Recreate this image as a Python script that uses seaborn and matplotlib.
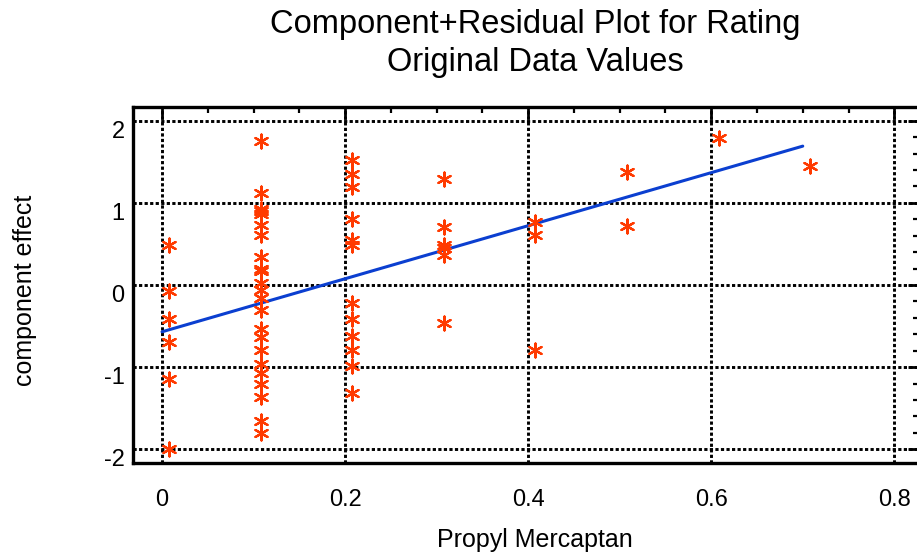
import matplotlib
matplotlib.use("Agg")
import matplotlib.pyplot as plt
import seaborn as sns
import pandas as pd
from matplotlib.ticker import MultipleLocator

# propyl mercaptan levels (points sit slightly right of the grid values)
levels = [0.008, 0.108, 0.208, 0.308, 0.408, 0.508, 0.608, 0.708]

effect_00 = [0.49, -0.07, -0.41, -0.70, -1.15, -2.0]
effect_01 = [1.755, 1.115, 0.93, 0.90, 0.86, 0.73, 0.61, 0.34, 0.19, 0.17, 0.03,
             -0.06, -0.16, -0.31, -0.53, -0.63, -0.79, -0.96, -1.07, -1.20,
             -1.36, -1.65, -1.80]
effect_02 = [1.52, 1.35, 1.19, 0.80, 0.55, 0.49, -0.22, -0.42, -0.62, -0.79,
             -0.99, -1.31]
effect_03 = [1.29, 0.70, 0.49, 0.45, 0.37, -0.46]
effect_04 = [0.77, 0.61, -0.79]
effect_05 = [1.37, 0.72]
effect_06 = [1.79]
effect_07 = [1.45]

fit_x = [0.0, 0.7]
fit_y = [-0.57, 1.69]

x_ticks = [0, 0.2, 0.4, 0.6, 0.8]
x_labels = ["0", "0.2", "0.4", "0.6", "0.8"]
y_ticks = [-2, -1, 0, 1, 2]
y_labels = ["-2", "-1", "0", "1", "2"]

groups = [effect_00, effect_01, effect_02, effect_03, effect_04, effect_05,
          effect_06, effect_07]
df = pd.concat([pd.DataFrame({"mercaptan": lv, "effect": vals})
                for lv, vals in zip(levels, groups)], ignore_index=True)

sns.set_style("white")
plt.rcParams["font.family"] = ["Liberation Sans", "DejaVu Sans"]
plt.rcParams["text.color"] = "black"
plt.rcParams["xtick.labelcolor"] = "black"
plt.rcParams["ytick.labelcolor"] = "black"

fig = plt.figure(figsize=(9.17, 5.56), dpi=100)
ax = fig.add_axes([133 / 917, 93 / 556, 786 / 917, 356.3 / 556])

ax.plot(fit_x, fit_y, color="#0b3fd0", lw=2.2, zorder=3)
sns.scatterplot(data=df, x="mercaptan", y="effect", ax=ax, marker=(6, 2, 0),
                s=100, color="#ff3a00", linewidth=1.6, zorder=4, legend=False)

ax.set_xlim(-0.0317, 0.827)
ax.set_ylim(-2.167, 2.17)
ax.set_xticks(x_ticks)
ax.set_xticklabels(x_labels)
ax.set_yticks(y_ticks)
ax.set_yticklabels(y_labels)
ax.xaxis.set_minor_locator(MultipleLocator(0.05))
ax.yaxis.set_minor_locator(MultipleLocator(0.2))

ax.grid(True, which="major", color="black", lw=2.1, linestyle=(0, (1.1, 0.8)))
ax.set_axisbelow(True)

for sp in ax.spines.values():
    sp.set_linewidth(2.4)
    sp.set_color("black")
    sp.set_visible(True)

ax.tick_params(which="both", direction="in", top=True, right=True,
               color="black")
ax.tick_params(which="major", length=8, width=2, labelsize=17)
ax.tick_params(which="minor", length=4, width=1.6)
ax.tick_params(axis="x", which="major", pad=19)
ax.tick_params(axis="y", which="major", pad=6)
for lab in ax.get_yticklabels():
    lab.set_verticalalignment("top")

ax.set_xlabel("")
ax.set_ylabel("")
fig.text(535 / 917, 1 - 540 / 556, "Propyl Mercaptan", ha="center",
         va="center", fontsize=18)
fig.text(25 / 917, 1 - 290 / 556, "component effect", ha="center",
         va="center", rotation=90, fontsize=18)
fig.text(535 / 917, 1 - 24 / 556, "Component+Residual Plot for Rating",
         ha="center", va="center", fontsize=23.5)
fig.text(535 / 917, 1 - 63 / 556, "Original Data Values",
         ha="center", va="center", fontsize=23.5)

fig.savefig("out.png", dpi=100)
